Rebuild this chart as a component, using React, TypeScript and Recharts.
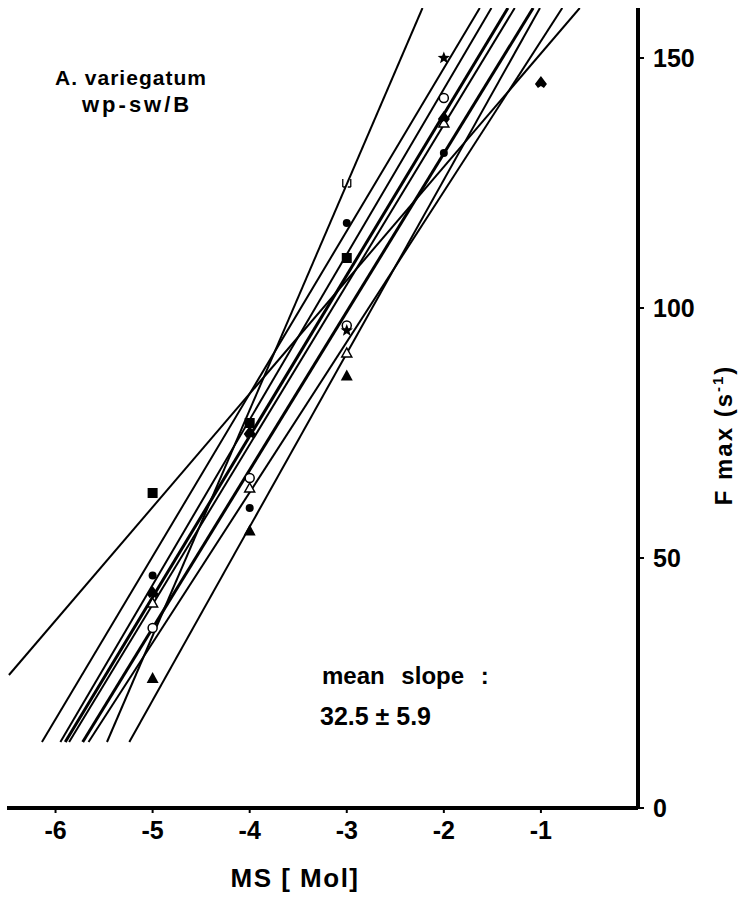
import React from "react";
import { ComposedChart, Line, Scatter, XAxis, YAxis, Customized } from "recharts";

const X_TICKS = [-6, -5, -4, -3, -2, -1];
const Y_TICKS = [0, 50, 100, 150];

// regression lines: [x at bottom, y at bottom, x at top, y at top]
const LINES: { ends: number[]; w: number }[] = [
  { ends: [-6.48, 26.6, -0.6, 160], w: 2 },
  { ends: [-5.47, 13.2, -2.22, 160], w: 2 },
  { ends: [-6.14, 13.2, -1.63, 160], w: 2 },
  { ends: [-5.95, 13.2, -1.51, 160], w: 2 },
  { ends: [-5.9, 13.2, -1.34, 160], w: 3 },
  { ends: [-5.86, 13.2, -1.27, 160], w: 2 },
  { ends: [-5.72, 13.2, -1.08, 160], w: 3 },
  { ends: [-5.66, 13.2, -0.78, 160], w: 2 },
  { ends: [-5.24, 13.2, -1.01, 160], w: 2 },
];

const filledSquare = [{ x: -5, y: 63 }, { x: -4, y: 77 }, { x: -3, y: 110 }];
const filledCircle = [{ x: -5, y: 46.5 }, { x: -4, y: 60 }, { x: -3, y: 117 }, { x: -2, y: 131 }];
const openCircle = [{ x: -5, y: 36 }, { x: -4, y: 66 }, { x: -3, y: 96.5 }, { x: -2, y: 142 }];
const openTriangle = [{ x: -5, y: 41 }, { x: -4, y: 64 }, { x: -3, y: 91 }, { x: -2, y: 137 }];
const filledTriangle = [{ x: -5, y: 26 }, { x: -4, y: 55.5 }, { x: -3, y: 86.5 }];
const stars = [{ x: -3, y: 95.5 }, { x: -2, y: 150 }];
const openCup = [{ x: -3, y: 125 }];
const spades = [{ x: -5, y: 43 }, { x: -4, y: 75 }, { x: -2, y: 138 }, { x: -1, y: 145 }];

const FONT = "'Liberation Sans', Arial, sans-serif";

type P = { cx?: number; cy?: number };

const Sq = ({ cx = 0, cy = 0 }: P) => <rect x={cx - 5} y={cy - 5} width={10} height={10} fill="#000" />;
const Dot = ({ cx = 0, cy = 0 }: P) => <circle cx={cx} cy={cy} r={4} fill="#000" />;
const Ring = ({ cx = 0, cy = 0 }: P) => <circle cx={cx} cy={cy} r={4.5} fill="#fff" stroke="#000" strokeWidth={1.5} />;
const Tri = ({ cx = 0, cy = 0 }: P) => (
  <path d={`M${cx},${cy - 5}L${cx + 5},${cy + 4}L${cx - 5},${cy + 4}Z`} fill="#fff" stroke="#000" strokeWidth={1.5} />
);
const TriF = ({ cx = 0, cy = 0 }: P) => <path d={`M${cx},${cy - 6}L${cx + 6},${cy + 5}L${cx - 6},${cy + 5}Z`} fill="#000" />;
const Star = ({ cx = 0, cy = 0 }: P) => {
  let d = "";
  for (let i = 0; i < 10; i++) {
    const r = i % 2 === 0 ? 6.5 : 2.8;
    const a = -Math.PI / 2 + (i * Math.PI) / 5;
    d += `${i === 0 ? "M" : "L"}${cx + r * Math.cos(a)},${cy + r * Math.sin(a)}`;
  }
  return <path d={d + "Z"} fill="#000" />;
};
const Cup = ({ cx = 0, cy = 0 }: P) => (
  <path d={`M${cx - 4},${cy + 4}L${cx - 4},${cy - 4}M${cx + 4},${cy + 4}L${cx + 4},${cy - 4}M${cx - 4},${cy + 4}L${cx - 1},${cy + 4}M${cx + 4},${cy + 4}L${cx + 1},${cy + 4}`} stroke="#000" strokeWidth={1.3} fill="none" />
);
const Spade = ({ cx = 0, cy = 0 }: P) => (
  <path d={`M${cx},${cy - 7}L${cx + 6},${cy + 1}L${cx + 3},${cy + 5}L${cx},${cy + 3}L${cx - 3},${cy + 5}L${cx - 6},${cy + 1}Z`} fill="#000" />
);

const Texts = () => (
  <g fontFamily={FONT} fill="#000">
    <text x={55} y={85} fontSize={21} fontWeight={700} letterSpacing={1}>A. variegatum</text>
    <text x={82} y={112} fontSize={22} fontWeight={700} letterSpacing={3}>wp-sw/B</text>
    <text x={322} y={684} fontSize={24} fontWeight={700} wordSpacing={10}>mean slope :</text>
    <text x={320} y={725} fontSize={25} fontWeight={600}>32.5 ± 5.9</text>
    <text x={295} y={887} fontSize={26} fontWeight={700} textAnchor="middle" letterSpacing={1.5}>MS [ Mol]</text>
    <text x={0} y={0} fontSize={24} fontWeight={700} textAnchor="middle" letterSpacing={2} transform="translate(732,435) rotate(-90)">
      F max (s<tspan dy={-9} fontSize={15}>-1</tspan><tspan dy={9}>)</tspan>
    </text>
  </g>
);

export default function App() {
  return (
    <div style={{ position: "absolute", left: 0, top: 0 }}>
      <ComposedChart width={740} height={903} margin={{ top: 8, right: 0, bottom: 0, left: 7 }}>
        <XAxis
          type="number"
          dataKey="x"
          domain={[-6.5, 0]}
          ticks={X_TICKS}
          allowDataOverflow
          axisLine={{ stroke: "#000", strokeWidth: 4 }}
          tickLine={{ stroke: "#000", strokeWidth: 2 }}
          tickSize={5}
          tickMargin={8}
          height={95}
          tick={{ fill: "#000", fontSize: 25, fontWeight: 700, fontFamily: FONT }}
        />
        <YAxis
          type="number"
          orientation="right"
          domain={[0, 160]}
          ticks={Y_TICKS}
          allowDataOverflow
          axisLine={{ stroke: "#000", strokeWidth: 4 }}
          tickLine={{ stroke: "#000", strokeWidth: 2 }}
          tickSize={6}
          tickMargin={9}
          width={102}
          tick={{ fill: "#000", fontSize: 25, fontWeight: 600, fontFamily: FONT, textAnchor: "start" }}
        />
        {LINES.map((l, i) => (
          <Line
            key={i}
            data={[{ x: l.ends[0], y: l.ends[1] }, { x: l.ends[2], y: l.ends[3] }]}
            dataKey="y"
            stroke="#000"
            strokeWidth={l.w}
            dot={false}
            activeDot={false}
            isAnimationActive={false}
          />
        ))}
        <Scatter data={filledSquare} dataKey="y" shape={Sq} isAnimationActive={false} />
        <Scatter data={filledCircle} dataKey="y" shape={Dot} isAnimationActive={false} />
        <Scatter data={openCircle} dataKey="y" shape={Ring} isAnimationActive={false} />
        <Scatter data={openTriangle} dataKey="y" shape={Tri} isAnimationActive={false} />
        <Scatter data={filledTriangle} dataKey="y" shape={TriF} isAnimationActive={false} />
        <Scatter data={stars} dataKey="y" shape={Star} isAnimationActive={false} />
        <Scatter data={openCup} dataKey="y" shape={Cup} isAnimationActive={false} />
        <Scatter data={spades} dataKey="y" shape={Spade} isAnimationActive={false} />
        <Customized component={Texts} />
      </ComposedChart>
    </div>
  );
}
